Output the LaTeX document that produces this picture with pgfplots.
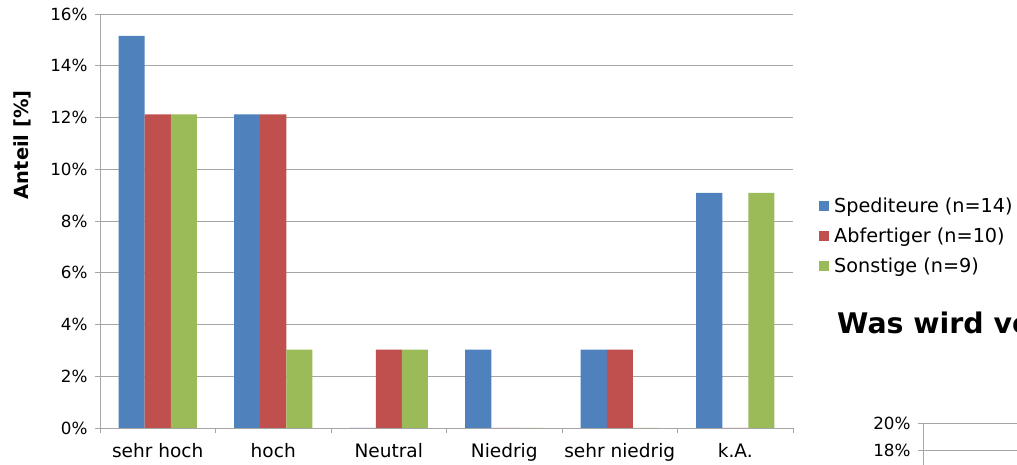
\documentclass[border=0pt]{standalone}
\usepackage{fontspec}
\setmainfont{DejaVu Sans}
\usepackage{pgfplots}
\pgfplotsset{compat=1.18}
\definecolor{cblue}{HTML}{4F81BD}
\definecolor{cred}{HTML}{C0504D}
\definecolor{cgreen}{HTML}{9BBB59}
\definecolor{cgrid}{HTML}{A6A6A6}
\begin{document}
\begin{tikzpicture}
\clip (0bp,0bp) rectangle (1017bp,465bp);
\begin{axis}[
  at={(100bp,37bp)}, anchor=south west,
  scale only axis, width=693bp, height=414bp,
  xmin=-0.5, xmax=5.5, ymin=0, ymax=16,
  ybar=0pt, bar width=26bp,
  axis lines*=left,
  axis line style={cgrid, line width=0.8bp},
  ytick={0,2,...,16},
  yticklabel={\pgfmathprintnumber{\tick}\%},
  /pgf/number format/assume math mode=true,
  ymajorgrids, grid style={cgrid, line width=0.8bp},
  xtick={-0.5,0.5,1.5,2.5,3.5,4.5,5.5},
  x tick label as interval,
  xticklabels={sehr hoch,hoch,Neutral,Niedrig,sehr niedrig,k.A.},
  tick align=outside, major tick length=5bp,
  tick style={cgrid, line width=0.8bp},
  yticklabel style={font=\fontsize{16.8}{19}\selectfont, xshift=-4bp},
  xticklabel style={font=\fontsize{18.6}{21}\selectfont, yshift=-7bp},
  ylabel={Anteil [\%]},
  every axis y label/.style={at={(-0.1126,0.684)}, rotate=90, anchor=center,
    font=\bfseries\fontsize{19.5}{22}\selectfont},
  legend style={at={(1.0375,0.464)}, anchor=west, draw=none, fill=none,
    font=\fontsize{19.3}{22}\selectfont, row sep=10bp, inner sep=0pt,
    cells={anchor=west},
    /tikz/every odd column/.append style={column sep=3bp}},
  legend image code/.code={\fill[#1] (0bp,-5bp) rectangle (10bp,5bp);},
]
\addplot[fill=cblue, draw=none] coordinates {(0,15.15) (1,12.12) (2,0) (3,3.03) (4,3.03) (5,9.09)};
\addplot[fill=cred, draw=none] coordinates {(0,12.12) (1,12.12) (2,3.03) (3,0) (4,3.03) (5,0)};
\addplot[fill=cgreen, draw=none] coordinates {(0,12.12) (1,3.03) (2,3.03) (3,0) (4,0) (5,9.09)};
\legend{Spediteure (n=14), Abfertiger (n=10), Sonstige (n=9)}
\end{axis}
\node[anchor=base west, font=\bfseries\fontsize{28.5}{32}\selectfont, inner sep=0pt] at (837bp,131bp) {Was wird ve};
\begin{axis}[
  at={(923bp,42bp)}, anchor=north west,
  scale only axis, width=600bp, height=270bp,
  xmin=0, xmax=1, ymin=0, ymax=20,
  axis lines*=left,
  axis line style={cgrid, line width=0.8bp},
  ytick={18,20}, xtick=\empty,
  yticklabel={\pgfmathprintnumber{\tick}\%},
  /pgf/number format/assume math mode=true,
  ymajorgrids, grid style={cgrid, line width=0.8bp},
  tick align=outside, major tick length=5bp,
  tick style={cgrid, line width=0.8bp},
  yticklabel style={font=\fontsize{16.8}{19}\selectfont, xshift=-4bp},
]
\end{axis}
\end{tikzpicture}
\end{document}
